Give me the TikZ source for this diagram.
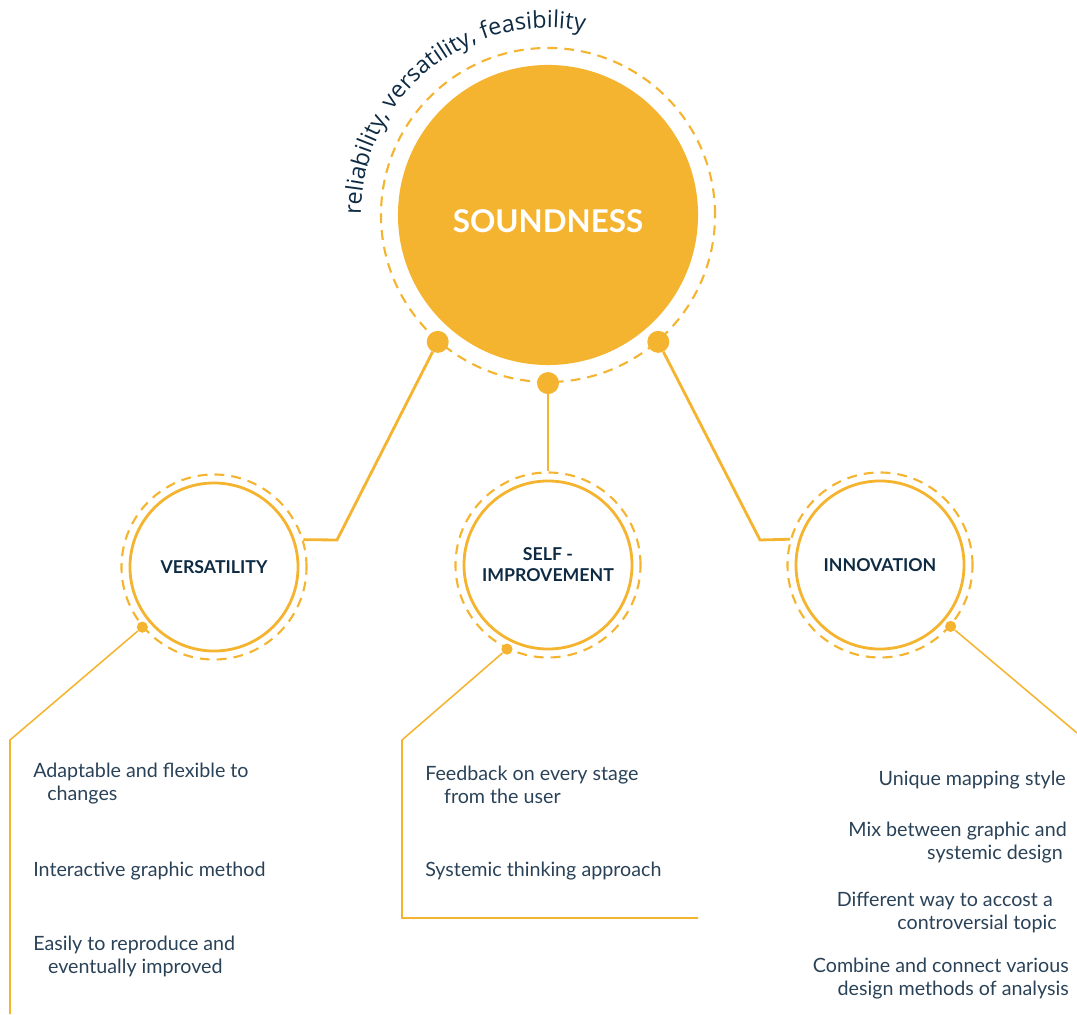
\documentclass[tikz,border=0pt]{standalone}
\usepackage{fontspec}
\setmainfont{Lato}
\newfontfamily\arcfont{Open Sans}
\usetikzlibrary{decorations.text}

\definecolor{gold}{HTML}{F5B430}
\definecolor{ink}{HTML}{0E2B43}
\definecolor{body}{HTML}{2A4258}

\begin{document}
\begin{tikzpicture}[
    x=0.025cm, y=0.025cm,
    hub/.style={circle, fill=gold, minimum size=7.5cm, inner sep=0pt,
                text=white, font=\fontsize{22.3}{26}\selectfont\bfseries},
    halo/.style={circle, draw=gold, line width=1.5pt,
                 dash pattern=on 7pt off 5pt, inner sep=0pt},
    topic/.style={circle, draw=gold, line width=2pt, minimum size=4.2cm,
                  inner sep=0pt, align=center, text=ink,
                  font=\fontsize{12.6}{15}\selectfont\bfseries},
    knob/.style={circle, fill=gold, minimum size=0.55cm, inner sep=0pt},
    pip/.style={circle, fill=gold, minimum size=0.28cm, inner sep=0pt},
    link/.style={draw=gold, line width=2pt},
    lead/.style={draw=gold, line width=1.1pt},
    item/.style={text=body, font=\fontsize{14}{16}\selectfont,
                 inner sep=0pt, align=left, anchor=base west},
    itemr/.style={item, align=right, anchor=base east}
  ]
  \useasboundingbox (0,0) rectangle (1077,1014);

  % The core quality and its halo.
  \node[halo, minimum size=8.35cm] (soundring) at (548,799) {};
  \node[hub] (sound) at (548,799) {\raisebox{-0.44cm}[0pt][0pt]{SOUNDNESS}};
  \path[decorate, decoration={text along path, text align=left,
      text={|\arcfont\fontsize{16.6}{19}\selectfont\color{ink}|reliability, versatility, feasibility}}]
    (sound) ++(180:4.675cm) arc[start angle=180, end angle=60, radius=4.675cm];

  \node[knob] (kl) at (soundring.229) {};
  \node[knob] (kb) at (soundring.270) {};
  \node[knob] (kr) at (soundring.311) {};

  % The three sub-qualities.
  \node[topic] (vers) at (214,447) {VERSATILITY};
  \node[halo, minimum size=4.625cm] (versring) at (vers) {};
  \node[topic] (self) at (548,449) {SELF -\\IMPROVEMENT};
  \node[halo, minimum size=4.625cm] (selfring) at (self) {};
  \node[topic] (inno) at (880,449) {INNOVATION};
  \node[halo, minimum size=4.625cm] (innoring) at (inno) {};

  \coordinate (bendl) at (337,474);
  \coordinate (bendr) at (760,474);
  \draw[link] (kl) -- (bendl) -- (versring.17);
  \draw[link] (kb) -- (selfring.north);
  \draw[link] (kr) -- (bendr) -- (innoring.164);

  % Leads down to the lists.
  \node[pip] (pv) at (versring.220) {};
  \node[pip] (ps) at (selfring.244) {};
  \node[pip] (pi) at (innoring.319) {};

  \coordinate (vtop) at (10,274);
  \coordinate (vend) at (10,0);
  \coordinate (stop) at (402,274);
  \coordinate (scorner) at (402,96);
  \coordinate (send) at (698,96);
  \coordinate (iend) at (1077,281);
  \draw[lead] (pv) -- (vtop) -- (vend);
  \draw[lead] (ps) -- (stop) -- (scorner) -- (send);
  \draw[lead] (pi) -- (iend);

  % Two-line items sit on the baseline of their last line.
  \node[item] (v1) at (33,214) {Adaptable and flexible to\\\hspace*{0.35cm}changes};
  \node[item] (v2) at (33,138) {Interactive graphic method};
  \node[item] (v3) at (33,41)  {Easily to reproduce and\\\hspace*{0.37cm}eventually improved};

  \node[item] (s1) at (425,211) {Feedback on every stage\\\hspace*{0.47cm}from the user};
  \node[item] (s2) at (425,138) {Systemic thinking approach};

  \node[itemr] (i1) at (1066,229) {Unique mapping style};
  \node[itemr] (i2) at (1067,155) {Mix between graphic and\\systemic design\hspace*{0.1cm}};
  \node[itemr] (i3) at (1057,85)  {Different way to accost a\hspace*{0.1cm}\\controversial topic};
  \node[itemr] (i4) at (1069,19)  {Combine and connect various\\design methods of analysis};

\end{tikzpicture}
\end{document}
